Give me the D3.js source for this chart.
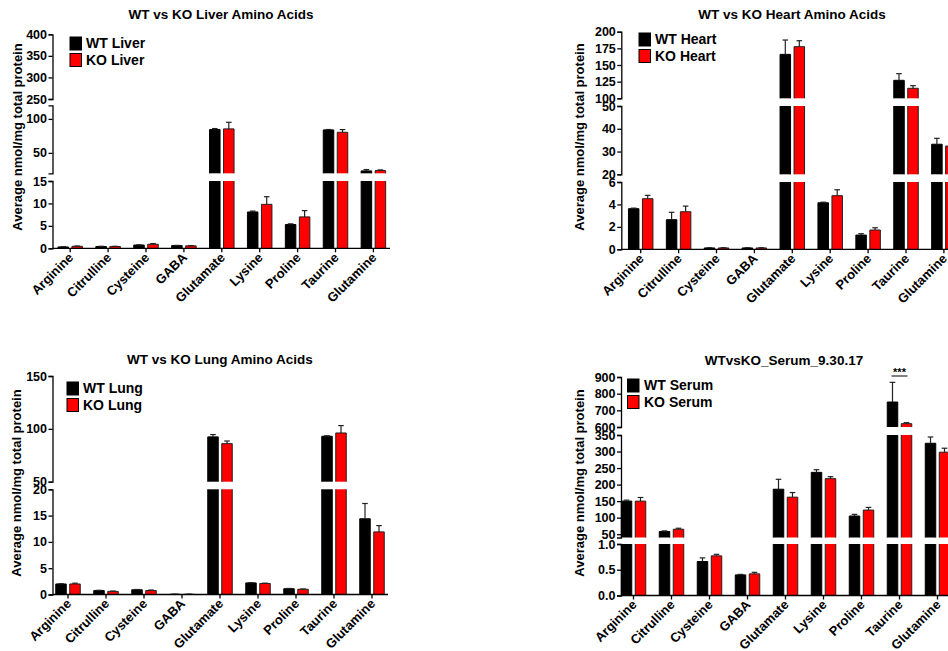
<!DOCTYPE html>
<html>
<head>
<meta charset="utf-8">
<script src="https://cdn.jsdelivr.net/npm/d3@7"></script>
<style>
  body { margin: 0; background: #fff; }
  svg text { font-family: "Liberation Sans", Arial, sans-serif; font-weight: bold; fill: #000; }
</style>
</head>
<body>
<svg id="chart" width="948" height="651"></svg>
<script>

var categories = ['Arginine', 'Citrulline', 'Cysteine', 'GABA', 'Glutamate', 'Lysine', 'Proline', 'Taurine', 'Glutamine'];

// liver
var liverWT     = [0.3, 0.4, 0.73, 0.6, 84.3, 8.1, 5.3, 83.8, 23.5];
var liverWTErr  = [0.05, 0.05, 0.05, 0.05, 1.5, 0.2, 0.15, 0.6, 2];
var liverKO     = [0.45, 0.4, 0.9, 0.55, 85.3, 9.8, 7.0, 80.3, 24];
var liverKOErr  = [0.05, 0.05, 0.15, 0.05, 9.7, 1.7, 1.4, 4, 1];
var liverBreaks = [[0, 15], [20, 120], [250, 400]];
var liverTicks  = [[0, 5, 10, 15], [50, 100], [250, 300, 350, 400]];

// heart
var heartWT     = [3.62, 2.64, 0.12, 0.12, 166, 4.15, 1.27, 127, 33.2];
var heartWTErr  = [0.05, 0.66, 0.02, 0.02, 21.5, 0.05, 0.12, 10, 2.6];
var heartKO     = [4.51, 3.35, 0.12, 0.12, 177.5, 4.78, 1.72, 115, 32.4];
var heartKOErr  = [0.3, 0.5, 0.02, 0.02, 9, 0.53, 0.2, 4, 1];
var heartBreaks = [[0, 6], [20, 50], [100, 200]];
var heartTicks  = [[0, 2, 4, 6], [20, 30, 40, 50], [100, 125, 150, 175, 200]];

// lung
var lungWT     = [2.0, 0.75, 0.9, 0.05, 92.4, 2.2, 1.1, 93, 14.4];
var lungWTErr  = [0.05, 0.05, 0.05, 0.01, 2.2, 0.05, 0.05, 0.5, 2.9];
var lungKO     = [2.0, 0.6, 0.75, 0.05, 86, 2.1, 1.0, 96.1, 11.9];
var lungKOErr  = [0.15, 0.05, 0.1, 0.01, 2.5, 0.05, 0.05, 7, 1.2];
var lungBreaks = [[0, 20], [50, 150]];
var lungTicks  = [[0, 5, 10, 15, 20], [50, 100, 150]];

// serum
var serumWT     = [150, 58, 0.66, 0.40, 186, 237, 105, 750, 325];
var serumWTErr  = [3, 2, 0.07, 0.01, 30, 8, 5, 118, 19];
var serumKO     = [150, 65, 0.77, 0.42, 162, 218, 123, 620, 298];
var serumKOErr  = [11, 3, 0.03, 0.03, 14, 6, 8, 6, 12];
var serumBreaks = [[0, 1], [40, 350], [600, 900]];
var serumTicks  = [[0, 0.5, 1], [50, 100, 150, 200, 250, 300, 350], [600, 700, 800, 900]];

var panels = [
  { title: 'WT vs KO Liver Amino Acids', names: ['WT Liver', 'KO Liver'],
    wt: liverWT, wtErr: liverWTErr, ko: liverKO, koErr: liverKOErr,
    breaks: liverBreaks, ticks: liverTicks, fmt: d3.format('d'),
    axisX: 52.5, firstC: 70.2, step: 37.9, xEnd: 390,
    segY: [[248.3, 181], [173.3, 105.3], [99, 34.3]],
    titleX: 221, titleY: 19, labX: 22, labY: 137,
    legX: 70, legY: 37, legTextX: 86 },
  { title: 'WT vs KO Heart Amino Acids', names: ['WT Heart', 'KO Heart'],
    wt: heartWT, wtErr: heartWTErr, ko: heartKO, koErr: heartKOErr,
    breaks: heartBreaks, ticks: heartTicks, fmt: d3.format('d'),
    axisX: 621.3, firstC: 640.7, step: 37.9, xEnd: 980,
    segY: [[249.3, 182], [174.3, 106], [98.3, 31.7]],
    titleX: 792, titleY: 19, labX: 584, labY: 137,
    legX: 639, legY: 33, legTextX: 655 },
  { title: 'WT vs KO Lung Amino Acids', names: ['WT Lung', 'KO Lung'],
    wt: lungWT, wtErr: lungWTErr, ko: lungKO, koErr: lungKOErr,
    breaks: lungBreaks, ticks: lungTicks, fmt: d3.format('d'),
    axisX: 52.5, firstC: 68, step: 38, xEnd: 388,
    segY: [[594.5, 489.3], [481.7, 376]],
    titleX: 220, titleY: 364, labX: 21, labY: 483,
    legX: 67, legY: 382, legTextX: 83 },
  { title: 'WTvsKO_Serum_9.30.17', names: ['WT Serum', 'KO Serum'],
    wt: serumWT, wtErr: serumWTErr, ko: serumKO, koErr: serumKOErr,
    breaks: serumBreaks, ticks: serumTicks, fmt: d3.format('.1f'),
    axisX: 621, firstC: 633.5, step: 38, xEnd: 980,
    segY: [[595.5, 544], [537.5, 435], [427, 377]],
    titleX: 784, titleY: 365, labX: 584, labY: 483,
    legX: 627.5, legY: 379, legTextX: 644,
    sig: { idx: 7, text: '***', y: 376 } }
];

var svg = d3.select('#chart');
var colors = ['#000000', '#ff0000'];
var strokes = ['#000000', '#222222'];

panels.forEach(function(p){ drawPanel(p); });


function drawPanel(p){
  var g = svg.append('g');
  var base = p.segY[0][0];

  var x = d3.scaleBand()
            .domain(categories)
            .range([p.firstC - p.step / 2, p.firstC - p.step / 2 + p.step * categories.length]);
  var sub = d3.scaleBand()
              .domain([0, 1])
              .range([-12.25, 12.25])
              .paddingInner(0.25);

  // one linear scale per axis segment
  var segs = p.breaks.map(function(b, i){
    return d3.scaleLinear().domain(b).range(p.segY[i]);
  });

  // y axis segments
  segs.forEach(function(s, i){
    var fmt = (i == 0) ? p.fmt : d3.format('d');
    var ax = d3.axisLeft(s)
               .tickValues(p.ticks[i])
               .tickSize(4)
               .tickSizeOuter(4)
               .tickPadding(1.5)
               .tickFormat(fmt);
    var a = g.append('g')
             .attr('transform', 'translate(' + p.axisX + ',0)')
             .call(ax);
    a.selectAll('path, line').attr('stroke', '#000').attr('stroke-width', 1.3);
    a.selectAll('text').style('font-size', '12.5px').attr('fill', '#000');
  });

  // bars
  var series = [[p.wt, p.wtErr], [p.ko, p.koErr]];
  series.forEach(function(sr, k){
    var vals = sr[0], errs = sr[1];
    categories.forEach(function(c, ci){
      var v = vals[ci];
      var x0 = x(c) + x.bandwidth() / 2 + sub(k);
      var w = sub.bandwidth();
      segs.forEach(function(s, si){
        var d = s.domain();
        if (v <= d[0] && si > 0) return;
        var top = s(Math.min(v, d[1]));
        var bot = s.range()[0];
        g.append('rect')
          .attr('x', x0).attr('y', top)
          .attr('width', w).attr('height', Math.max(0, bot - top))
          .attr('fill', colors[k]);
        var path = 'M' + x0 + ',' + bot + 'V' + top;
        if (v <= d[1]) path += 'H' + (x0 + w);
        else path += 'M' + (x0 + w) + ',' + top;
        path += 'V' + bot;
        g.append('path').attr('d', path)
          .attr('fill', 'none').attr('stroke', strokes[k]).attr('stroke-width', 1);

        // error whisker sits in the segment holding the bar top
        if (v > d[0] && v <= d[1] || (si == 0 && v <= d[1])){
          var ye = s(Math.min(v + errs[ci], d[1]));
          var cx = x0 + w / 2;
          g.append('line').attr('x1', cx).attr('x2', cx).attr('y1', top).attr('y2', ye)
            .attr('stroke', '#222').attr('stroke-width', 1.2);
          g.append('line').attr('x1', cx - 2.8).attr('x2', cx + 2.8).attr('y1', ye).attr('y2', ye)
            .attr('stroke', '#222').attr('stroke-width', 1.2);
        }
      });
    });
  });

  // x axis
  g.append('line')
    .attr('x1', p.axisX).attr('x2', p.xEnd)
    .attr('y1', base).attr('y2', base)
    .attr('stroke', '#000').attr('stroke-width', 1.3);
  g.selectAll('.xtick')
    .data(categories)
    .enter()
    .append('line')
    .attr('x1', function(d){ return x(d) + x.bandwidth() / 2; })
    .attr('x2', function(d){ return x(d) + x.bandwidth() / 2; })
    .attr('y1', base).attr('y2', base + 4)
    .attr('stroke', '#000').attr('stroke-width', 1.3);
  g.selectAll('.xlab')
    .data(categories)
    .enter()
    .append('text')
    .attr('transform', function(d){
      return 'translate(' + (x(d) + x.bandwidth() / 2 + 4) + ',' + (base + 10) + ') rotate(-45)';
    })
    .style('text-anchor', 'end')
    .style('font-size', '13px')
    .text(function(d){ return d; });

  // title + y label
  g.append('text')
    .attr('x', p.titleX).attr('y', p.titleY)
    .style('text-anchor', 'middle')
    .style('font-size', '13.5px')
    .text(p.title);
  g.append('text')
    .attr('transform', 'translate(' + p.labX + ',' + p.labY + ') rotate(-90)')
    .style('text-anchor', 'middle')
    .style('font-size', '13px')
    .text('Average nmol/mg total protein');

  // legend
  p.names.forEach(function(n, i){
    g.append('rect')
      .attr('x', p.legX).attr('y', p.legY + i * 16.5)
      .attr('width', 11.5).attr('height', 13)
      .attr('fill', colors[i]).attr('stroke', '#000').attr('stroke-width', 1);
    g.append('text')
      .attr('x', p.legTextX).attr('y', p.legY + i * 16.5 + 11)
      .style('font-size', '14px')
      .text(n);
  });

  // significance mark
  if (p.sig){
    var c = categories[p.sig.idx];
    var cx = x(c) + x.bandwidth() / 2;
    g.append('line')
      .attr('x1', cx - 8).attr('x2', cx + 8)
      .attr('y1', p.sig.y).attr('y2', p.sig.y)
      .attr('stroke', '#000').attr('stroke-width', 1);
    g.append('text')
      .attr('x', cx).attr('y', p.sig.y - 0.5)
      .style('text-anchor', 'middle')
      .style('font-size', '11px')
      .text(p.sig.text);
  }
}

</script>
</body>
</html>
